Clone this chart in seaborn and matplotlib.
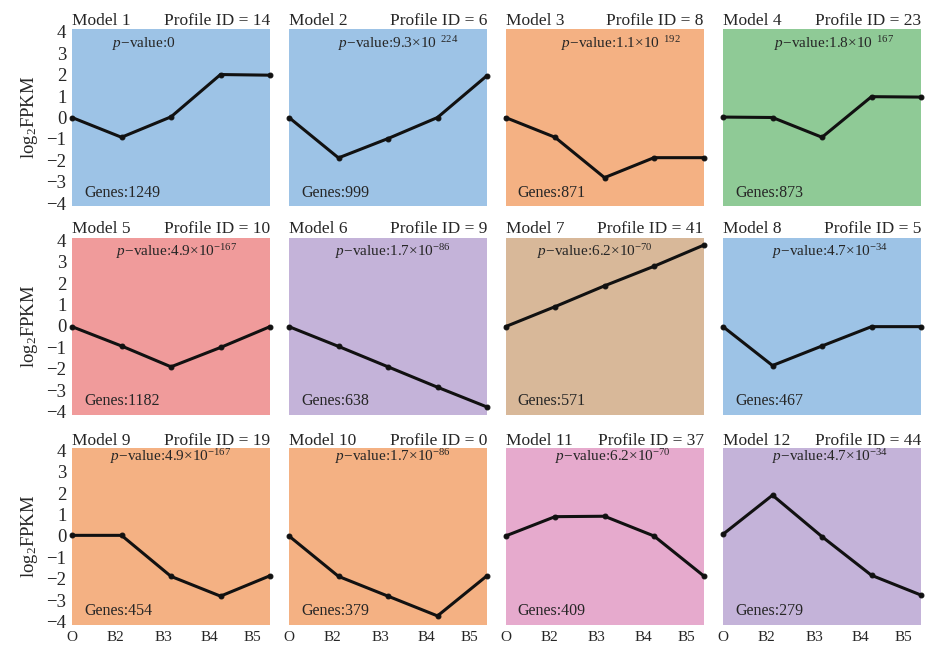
import matplotlib
matplotlib.use("Agg")
import matplotlib.pyplot as plt
import seaborn as sns
import pandas as pd

# ---- data ----
stages = ["O", "B2", "B3", "B4", "B5"]
models = [f"Model {i}" for i in range(1, 13)]
profile_ids = [14, 6, 8, 23, 10, 9, 41, 5, 19, 0, 37, 44]
genes = [1249, 999, 871, 873, 1182, 638, 571, 467, 454, 379, 409, 279]
pvalues = [
    r"$p$−value:0",
    r"$p$−value:9.3×10$^{\ \ 224}$",
    r"$p$−value:1.1×10$^{\ \ 192}$",
    r"$p$−value:1.8×10$^{\ \ 167}$",
    r"$p$−value:4.9×10$^{-167}$",
    r"$p$−value:1.7×10$^{-86}$",
    r"$p$−value:6.2×10$^{-70}$",
    r"$p$−value:4.7×10$^{-34}$",
    r"$p$−value:4.9×10$^{-167}$",
    r"$p$−value:1.7×10$^{-86}$",
    r"$p$−value:6.2×10$^{-70}$",
    r"$p$−value:4.7×10$^{-34}$",
]
m1 = [0.0, -0.92, 0.03, 2.0, 1.97]
m2 = [0.0, -1.88, -0.98, 0.0, 1.95]
m3 = [0.0, -0.92, -2.8, -1.87, -1.87]
m4 = [0.02, 0.0, -0.92, 0.97, 0.95]
m5 = [-0.03, -0.93, -1.9, -1.0, -0.03]
m6 = [-0.03, -0.95, -1.9, -2.85, -3.77]
m7 = [-0.03, 0.9, 1.87, 2.78, 3.76]
m8 = [-0.03, -1.84, -0.93, -0.03, -0.03]
m9 = [0.03, 0.03, -1.88, -2.8, -1.85]
m10 = [0.0, -1.88, -2.8, -3.72, -1.85]
m11 = [0.0, 0.9, 0.92, 0.0, -1.85]
m12 = [0.08, 1.9, -0.03, -1.83, -2.75]
series = [m1, m2, m3, m4, m5, m6, m7, m8, m9, m10, m11, m12]
ytick_vals = [-4, -3, -2, -1, 0, 1, 2, 3, 4]

# ---- style ----
colors = ["#9DC3E6", "#9DC3E6", "#F4B183", "#8FCA96",
          "#F09B9B", "#C4B3D9", "#D8B899", "#9DC3E6",
          "#F4B183", "#F4B183", "#E6AACD", "#C4B3D9"]
pval_x = [0.20, 0.25, 0.28, 0.26, 0.22, 0.23, 0.16, 0.25, 0.19, 0.23, 0.25, 0.25]

sns.set_style("white")
plt.rcParams["font.family"] = ["Liberation Serif", "DejaVu Serif"]
plt.rcParams["mathtext.fontset"] = "custom"
plt.rcParams["mathtext.rm"] = "Liberation Serif"
plt.rcParams["mathtext.it"] = "Liberation Serif:italic"
plt.rcParams["axes.unicode_minus"] = True

W, H = 927, 648
fig = plt.figure(figsize=(W / 100, H / 100), dpi=100)
lefts = [72, 289, 505.5, 723]
tops = [29, 237.5, 447.5]
aw, ah = 198, 177

rows = []
for m, vals in zip(models, series):
    for i, v in enumerate(vals):
        rows.append({"model": m, "pos": i, "value": v})
df = pd.DataFrame(rows)

xtick_pos = [0, 0.88, 1.84, 2.78, 3.65]

for k, m in enumerate(models):
    r, c = divmod(k, 4)
    ax = fig.add_axes([lefts[c] / W, 1 - (tops[r] + ah) / H, aw / W, ah / H])
    ax.set_facecolor(colors[k])
    sub = df[df["model"] == m]
    sns.lineplot(data=sub, x="pos", y="value", ax=ax, color="#111111",
                 marker="o", markersize=3.5, linewidth=2.2,
                 markeredgecolor="#111111", clip_on=False)
    ax.set_xlim(0, 4)
    ax.set_ylim(-4.12, 4.12)
    for s in ax.spines.values():
        s.set_visible(False)
    ax.tick_params(length=0)
    ax.set_yticks(ytick_vals)
    if c == 0:
        ax.set_yticklabels([str(v).replace("-", "−") for v in ytick_vals], fontsize=13.5)
        ax.tick_params(axis="y", pad=4)
        ax.set_ylabel(r"log$_2$FPKM", fontsize=13.5)
        ax.yaxis.set_label_coords(-0.16, 0.5)
    else:
        ax.set_yticklabels([])
        ax.set_ylabel("")
    ax.set_xticks(xtick_pos)
    if r == 2:
        ax.set_xticklabels(stages, fontsize=11)
        ax.tick_params(axis="x", pad=5)
    else:
        ax.set_xticklabels([])
    ax.set_xlabel("")
    ax.set_title(m, loc="left", fontsize=12.5, pad=2)
    ax.set_title(f"Profile ID = {profile_ids[k]}", loc="right", fontsize=12.5, pad=2)
    ax.text(pval_x[k], 0.95 if r == 2 else 0.92, pvalues[k], transform=ax.transAxes,
            ha="left", va="center", fontsize=11)
    ax.text(0.06, 0.075, f"Genes:{genes[k]}", transform=ax.transAxes,
            ha="left", va="center", fontsize=11.5)

fig.savefig("out.png", dpi=100)
